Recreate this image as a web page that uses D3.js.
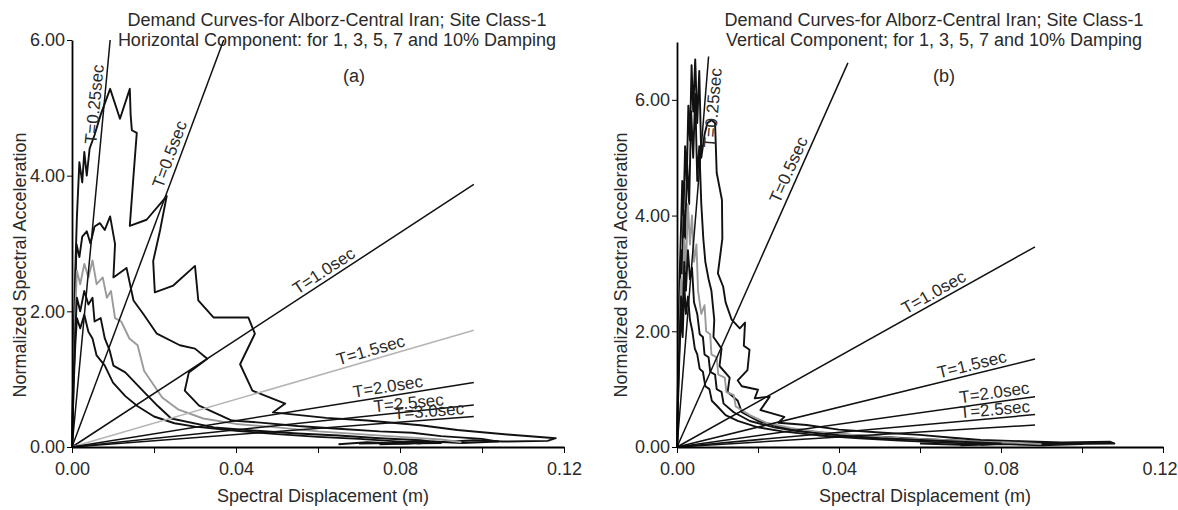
<!DOCTYPE html>
<html>
<head>
<meta charset="utf-8">
<script src="https://cdn.jsdelivr.net/npm/d3@7"></script>
<style>
  body { margin: 0; background: #fff; }
  svg text { font-family: "Liberation Sans", Arial, sans-serif; fill: #2a2a2a; }
</style>
</head>
<body>
<svg id="chart" width="1178" height="510"></svg>
<script>
// axis ticks
const sdTicks = [0, 0.02, 0.04, 0.06, 0.08, 0.10, 0.12];
const sdLabelled = [0, 0.04, 0.08, 0.12];
const saTicks = [0, 2, 4, 6];

const titleA = ["Demand Curves-for Alborz-Central Iran; Site Class-1",
                "Horizontal Component: for 1, 3, 5, 7 and 10% Damping"];
const titleB = ["Demand Curves-for Alborz-Central Iran; Site Class-1",
                "Vertical Component; for 1, 3, 5, 7 and 10% Damping"];

// constant-period lines, drawn from the origin to these end points [Sd (m), Sa]
const periodLabels = ["T=0.25sec", "T=0.5sec", "T=1.0sec", "T=1.5sec", "T=2.0sec", "T=2.5sec", "T=3.0sec"];
const periodEndA = [[0.0093, 6.0], [0.037, 6.0], [0.098, 3.87], [0.098, 1.72], [0.098, 0.95], [0.098, 0.62], [0.098, 0.45]];
const periodEndB = [[0.0078, 6.75], [0.0422, 6.64], [0.0884, 3.46], [0.0884, 1.52], [0.0884, 0.87], [0.0884, 0.56], [0.0884, 0.38]];

// horizontal component demand curves [Sd (m), normalized Sa]
const horiz1 = [[0,0],[0.0004,1.5],[0.0008,2.6],[0.0012,3.4],[0.0018,4.2],[0.0025,3.9],[0.003,4.35],[0.0036,4.0],
  [0.0043,4.4],[0.0055,4.6],[0.007,4.9],[0.0093,5.28],[0.0117,4.84],[0.0141,5.28],[0.0143,4.9],[0.0146,4.67],
  [0.0158,4.63],[0.015,4.0],[0.0141,3.26],[0.0182,3.35],[0.0231,3.7],[0.0215,3.2],[0.0198,2.74],[0.0202,2.28],
  [0.0247,2.38],[0.030,2.67],[0.0308,2.16],[0.0345,1.91],[0.043,1.91],[0.0446,1.67],[0.041,1.22],[0.044,0.83],
  [0.052,0.64],[0.049,0.51],[0.062,0.43],[0.072,0.39],[0.085,0.32],[0.094,0.25],[0.107,0.18],[0.118,0.13],
  [0.116,0.09],[0.105,0.08],[0.098,0.1],[0.09,0.07],[0.085,0.09],[0.078,0.06],[0.07,0.05]];
const horiz3 = [[0,0],[0.0004,1.4],[0.0008,2.3],[0.0011,2.99],[0.0018,2.8],[0.0025,3.1],[0.0036,3.18],[0.0045,3.0],
  [0.0055,3.25],[0.0068,3.3],[0.008,3.2],[0.0093,3.4],[0.0105,2.99],[0.0101,2.5],[0.0133,2.64],[0.015,2.16],
  [0.0174,1.96],[0.0207,1.67],[0.0263,1.5],[0.030,1.45],[0.033,1.3],[0.0285,1.1],[0.0275,0.83],[0.031,0.61],
  [0.039,0.39],[0.046,0.36],[0.055,0.31],[0.065,0.27],[0.075,0.23],[0.083,0.21],[0.09,0.16],[0.1,0.12],
  [0.104,0.08],[0.095,0.06],[0.088,0.08],[0.082,0.05],[0.075,0.04]];
const horiz5 = [[0,0],[0.0004,1.2],[0.0008,2.0],[0.0012,2.6],[0.002,2.4],[0.003,2.7],[0.004,2.5],[0.005,2.75],
  [0.006,2.4],[0.0075,2.5],[0.0085,2.2],[0.0095,2.3],[0.0105,1.9],[0.012,1.85],[0.014,1.6],[0.016,1.5],
  [0.0176,1.12],[0.022,0.73],[0.026,0.55],[0.032,0.42],[0.04,0.34],[0.05,0.29],[0.06,0.23],[0.07,0.19],
  [0.08,0.15],[0.09,0.11],[0.095,0.07]];
const horiz7 = [[0,0],[0.0004,1.0],[0.0008,1.7],[0.0012,2.2],[0.002,2.0],[0.003,2.3],[0.004,2.1],[0.005,2.2],
  [0.0055,1.85],[0.007,1.9],[0.008,1.6],[0.0092,1.42],[0.0101,1.2],[0.013,1.1],[0.0176,0.81],[0.021,0.6],
  [0.0242,0.42],[0.0346,0.29],[0.045,0.24],[0.055,0.2],[0.065,0.17],[0.075,0.13],[0.085,0.1],[0.09,0.06],
  [0.08,0.05],[0.072,0.07],[0.065,0.04]];
const horiz10 = [[0,0],[0.0004,0.9],[0.0008,1.5],[0.0012,1.9],[0.002,1.75],[0.003,1.95],[0.004,1.7],[0.005,1.6],
  [0.006,1.35],[0.008,1.2],[0.01,0.95],[0.013,0.75],[0.016,0.6],[0.02,0.45],[0.025,0.35],[0.03,0.3],
  [0.04,0.24],[0.05,0.19],[0.06,0.15],[0.07,0.12],[0.08,0.08],[0.085,0.05]];

// vertical component demand curves
const vert1 = [[0,0],[0.0003,1.5],[0.0006,2.8],[0.001,3.8],[0.0013,4.6],[0.0016,4.0],[0.002,5.2],[0.0024,4.6],
  [0.0028,5.9],[0.0032,5.3],[0.0036,6.6],[0.004,5.8],[0.0045,6.7],[0.005,5.6],[0.0055,6.5],[0.006,5.0],
  [0.0068,5.4],[0.0075,5.6],[0.0085,5.65],[0.0094,5.6],[0.0098,4.74],[0.0111,4.27],[0.0112,3.6],[0.0101,3.0],
  [0.0114,2.77],[0.012,2.5],[0.0135,2.2],[0.0155,2.05],[0.0168,2.15],[0.0165,1.75],[0.0179,1.68],[0.0174,1.33],
  [0.015,1.15],[0.016,1.05],[0.020,0.99],[0.0192,0.84],[0.0229,0.87],[0.0206,0.64],[0.0265,0.52],[0.025,0.42],
  [0.032,0.38],[0.04,0.3],[0.05,0.25],[0.06,0.21],[0.068,0.16],[0.075,0.12],[0.085,0.1],[0.095,0.08],
  [0.107,0.09],[0.108,0.06],[0.095,0.05],[0.085,0.07],[0.075,0.04]];
const vert3 = [[0,0],[0.0003,1.3],[0.0006,2.4],[0.001,3.4],[0.0013,3.0],[0.0016,4.1],[0.002,3.6],[0.0025,4.9],
  [0.003,4.2],[0.0035,5.8],[0.004,5.0],[0.0045,6.1],[0.005,4.6],[0.0055,5.2],[0.006,4.2],[0.0065,3.6],
  [0.007,3.2],[0.0078,2.9],[0.0085,2.7],[0.0092,2.2],[0.009,1.9],[0.011,1.7],[0.0105,1.4],[0.013,1.2],
  [0.0125,0.95],[0.015,0.8],[0.016,0.6],[0.02,0.45],[0.025,0.35],[0.03,0.28],[0.04,0.22],[0.05,0.18],
  [0.06,0.14],[0.07,0.11],[0.08,0.08],[0.09,0.06],[0.1,0.05],[0.09,0.03],[0.08,0.05],[0.07,0.03]];
const vert5 = [[0,0],[0.0003,1.1],[0.0006,2.0],[0.001,2.9],[0.0014,2.5],[0.0018,3.6],[0.0022,3.1],[0.0027,4.2],
  [0.0032,3.5],[0.0037,4.0],[0.0042,3.2],[0.0048,3.5],[0.0052,2.7],[0.006,2.3],[0.0068,2.45],[0.0072,2.0],
  [0.0082,1.95],[0.0085,1.6],[0.0098,1.55],[0.0102,1.25],[0.0118,1.2],[0.0122,0.95],[0.014,0.9],[0.0145,0.7],
  [0.018,0.55],[0.022,0.42],[0.028,0.33],[0.035,0.26],[0.045,0.2],[0.055,0.15],[0.065,0.12],[0.075,0.09],
  [0.085,0.07],[0.09,0.05]];
const vert7 = [[0,0],[0.0003,1.0],[0.0006,1.8],[0.001,2.6],[0.0014,2.2],[0.0018,3.2],[0.0022,2.7],[0.0027,3.4],
  [0.0032,2.9],[0.0037,3.1],[0.0042,2.5],[0.005,2.3],[0.0056,1.95],[0.0064,1.9],[0.0068,1.6],[0.0078,1.55],
  [0.0082,1.3],[0.0094,1.25],[0.0098,1.0],[0.011,0.95],[0.0115,0.75],[0.014,0.6],[0.018,0.45],[0.024,0.34],
  [0.03,0.27],[0.04,0.2],[0.05,0.15],[0.06,0.12],[0.07,0.09],[0.08,0.06],[0.07,0.04],[0.06,0.06]];
const vert10 = [[0,0],[0.0003,0.9],[0.0006,1.6],[0.001,2.3],[0.0014,1.9],[0.0018,2.8],[0.0022,2.3],[0.0027,2.6],
  [0.0032,2.2],[0.0038,2.0],[0.0044,1.7],[0.005,1.6],[0.0056,1.35],[0.0064,1.3],[0.007,1.05],[0.008,1.0],
  [0.0086,0.8],[0.01,0.7],[0.012,0.55],[0.015,0.45],[0.02,0.34],[0.026,0.27],[0.035,0.2],[0.045,0.15],
  [0.055,0.11],[0.065,0.08],[0.075,0.05]];

const svg = d3.select("#chart");

const panels = [
  {
    title: titleA, tag: "(a)", x0: 72, x1: 564, yBottom: 447, yTop: 40, saMax: 6,
    titleX: 337, tagX: 354, yTitleX: 26,
    ends: periodEndA,
    // label position along each line (fraction) and offset from the line (px)
    labelAt: [0.84, 0.71, 0.64, 0.75, 0.79, 0.84, 0.89],
    labelOff: [-4, -5, -4, -4, -4, -3, -3],
    lineColor: ["#111", "#111", "#111", "#b5b5b5", "#111", "#111", "#111"],
    curves: [horiz1, horiz3, horiz5, horiz7, horiz10]
  },
  {
    title: titleB, tag: "(b)", x0: 677, x1: 1163, yBottom: 447, yTop: 42, saMax: 7,
    titleX: 934, tagX: 944, yTitleX: 627,
    ends: periodEndB,
    labelAt: [0.87, 0.71, 0.73, 0.83, 0.89, 0.89, null],
    labelOff: [14, -5, -4, -4, -4, -3, 0],
    lineColor: ["#111", "#111", "#111", "#111", "#111", "#111", "#111"],
    curves: [vert1, vert3, vert5, vert7, vert10]
  }
];

const curveColor = ["#111", "#111", "#9a9a9a", "#111", "#111"];

panels.forEach(p => {
  const g = svg.append("g");
  const x = d3.scaleLinear().domain([0, 0.12]).range([p.x0, p.x1]);
  const y = d3.scaleLinear().domain([0, p.saMax]).range([p.yBottom, p.yTop]);

  // titles
  p.title.forEach((t, i) => {
    g.append("text").attr("x", p.titleX).attr("y", 26 + i * 20)
      .attr("text-anchor", "middle").attr("font-size", 18).text(t);
  });
  g.append("text").attr("x", p.tagX).attr("y", 82)
    .attr("text-anchor", "middle").attr("font-size", 18).text(p.tag);

  // demand curves
  const line = d3.line().x(d => x(d[0])).y(d => y(d[1]));
  p.curves.forEach((c, i) => {
    g.append("path").attr("d", line(c))
      .attr("fill", "none").attr("stroke", curveColor[i])
      .attr("stroke-width", 1.9).attr("stroke-linejoin", "round");
  });

  // constant period lines with labels
  p.ends.forEach((e, i) => {
    const ax = x(0), ay = y(0), bx = x(e[0]), by = y(e[1]);
    g.append("line").attr("x1", ax).attr("y1", ay).attr("x2", bx).attr("y2", by)
      .attr("stroke", p.lineColor[i]).attr("stroke-width", 1.5);
    if (p.labelAt[i] == null) return;
    const t = p.labelAt[i];
    const px = ax + t * (bx - ax), py = ay + t * (by - ay);
    const ang = Math.atan2(by - ay, bx - ax) * 180 / Math.PI;
    g.append("text")
      .attr("transform", `translate(${px},${py}) rotate(${ang})`)
      .attr("y", p.labelOff[i]).attr("text-anchor", "middle")
      .attr("font-size", 17).text(periodLabels[i]);
  });

  // axes
  const xAxis = d3.axisBottom(x).tickValues(sdTicks)
    .tickFormat(d => sdLabelled.some(v => Math.abs(v - d) < 1e-9) ? d3.format(".2f")(d) : "")
    .tickSize(6).tickSizeOuter(0).tickPadding(9);
  const gx = g.append("g").attr("transform", `translate(0,${p.yBottom})`).call(xAxis);
  gx.selectAll("text").attr("font-size", 18).attr("fill", "#2a2a2a");
  gx.select(".domain").attr("stroke-width", 2);
  // keep the last label inside the window
  gx.selectAll(".tick text").filter(d => x(d) + 18 > 1178).attr("text-anchor", "end").attr("x", 1177 - x(0.12));

  const yAxis = d3.axisLeft(y).tickValues(saTicks).tickFormat(d3.format(".2f"))
    .tickSize(5).tickSizeOuter(0).tickPadding(2);
  const gy = g.append("g").attr("transform", `translate(${p.x0},0)`).call(yAxis);
  gy.selectAll("text").attr("font-size", 18).attr("fill", "#2a2a2a");
  gy.select(".domain").attr("stroke-width", 1.8);

  // axis titles
  g.append("text").attr("x", (p.x0 + p.x1) / 2 + 5).attr("y", 502)
    .attr("text-anchor", "middle").attr("font-size", 18).text("Spectral Displacement (m)");
  g.append("text").attr("transform", `translate(${p.yTitleX},265) rotate(-90)`)
    .attr("text-anchor", "middle").attr("font-size", 18).text("Normalized Spectral Acceleration");
});
</script>
</body>
</html>
